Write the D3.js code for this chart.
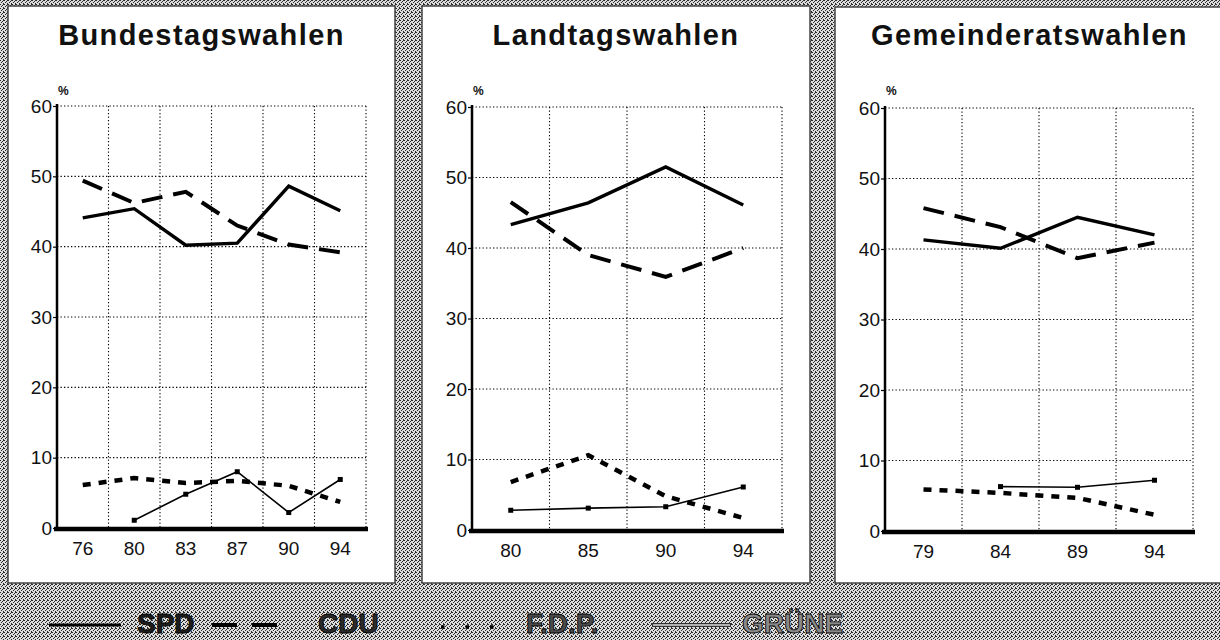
<!DOCTYPE html>
<html>
<head>
<meta charset="utf-8">
<script src="https://cdn.jsdelivr.net/npm/d3@7"></script>
<style>
  body { margin: 0; background: #a8a8a8; }
  svg { display: block; }
</style>
</head>
<body>
<div id="chart"></div>
<script>
var width = 1220;
var height = 640;

// Bundestagswahlen
var bundYears = ['76', '80', '83', '87', '90', '94'];
var bundSPD = [44.1, 45.4, 40.2, 40.5, 48.6, 45.1];
var bundCDU = [49.4, 46.2, 47.8, 43.0, 40.3, 39.2];
var bundFDP = [6.1, 7.1, 6.4, 6.7, 6.0, 3.7];
var bundGRUENE = [null, 1.1, 4.8, 8.0, 2.2, 6.9];

// Landtagswahlen
var landYears = ['80', '85', '90', '94'];
var landSPD = [43.3, 46.4, 51.5, 46.1];
var landCDU = [46.5, 39.0, 35.9, 40.0];
var landFDP = [6.8, 10.6, 4.8, 1.7];
var landGRUENE = [2.8, 3.1, 3.3, 6.1];

// Gemeinderatswahlen
var gemYears = ['79', '84', '89', '94'];
var gemSPD = [41.3, 40.1, 44.5, 42.0];
var gemCDU = [45.8, 43.1, 38.7, 40.9];
var gemFDP = [5.9, 5.4, 4.7, 2.3];
var gemGRUENE = [null, 6.3, 6.2, 7.2];

var yTicks = [0, 10, 20, 30, 40, 50, 60];
var parties = ['SPD', 'CDU', 'F.D.P.', 'GRÜNE'];

var svg = d3.select('#chart')
            .append('svg')
            .attr('width', width)
            .attr('height', height);

// halftone-ish background
var defs = svg.append('defs');
var pat = defs.append('pattern')
              .attr('id', 'halftone')
              .attr('width', 4)
              .attr('height', 4)
              .attr('patternUnits', 'userSpaceOnUse');
pat.append('rect').attr('width', 4).attr('height', 4).attr('fill', '#dcdcdc');
[[0, 0], [2, 1], [1, 2], [3, 3], [3, 0]].forEach(function(p) {
  pat.append('rect').attr('x', p[0]).attr('y', p[1]).attr('width', 1).attr('height', 1).attr('fill', '#2a2a2a');
});
svg.append('rect').attr('width', width).attr('height', height).attr('fill', 'url(#halftone)');

var panels = [
  {title: 'Bundestagswahlen', years: bundYears, spd: bundSPD, cdu: bundCDU, fdp: bundFDP, gruene: bundGRUENE,
   box: [8, 6, 395, 583], plot: [57, 366], yr: [528, 106]},
  {title: 'Landtagswahlen', years: landYears, spd: landSPD, cdu: landCDU, fdp: landFDP, gruene: landGRUENE,
   box: [422, 6, 810, 583], plot: [472, 782], yr: [530, 107]},
  {title: 'Gemeinderatswahlen', years: gemYears, spd: gemSPD, cdu: gemCDU, fdp: gemFDP, gruene: gemGRUENE,
   box: [835, 7, 1224, 583], plot: [885, 1193], yr: [531, 108]}
];

var font = "'Liberation Sans', Arial, Helvetica, sans-serif";

panels.forEach(function(p) {
  var g = svg.append('g');

  g.append('rect')
   .attr('x', p.box[0]).attr('y', p.box[1])
   .attr('width', p.box[2] - p.box[0]).attr('height', p.box[3] - p.box[1])
   .attr('fill', '#fff')
   .attr('stroke', '#444')
   .attr('stroke-width', 1.5);

  g.append('text')
   .attr('x', (p.box[0] + p.box[2]) / 2)
   .attr('y', 45)
   .attr('text-anchor', 'middle')
   .attr('font-family', font)
   .attr('font-weight', 'bold')
   .attr('font-size', 29)
   .attr('letter-spacing', 1.4)
   .attr('fill', '#111')
   .text(p.title);

  var x = d3.scaleBand().domain(p.years).range(p.plot).padding(0);
  var y = d3.scaleLinear().domain([0, 60]).range(p.yr);
  var cx = function(d, i) { return x(p.years[i]) + x.bandwidth() / 2; };

  // grid
  var vLines = p.years.slice(1).map(function(d) { return x(d); }).concat([p.plot[1]]);
  g.selectAll('.vgrid').data(vLines).enter().append('line')
   .attr('x1', function(d) { return d; }).attr('x2', function(d) { return d; })
   .attr('y1', y(60)).attr('y2', y(0))
   .attr('stroke', '#000').attr('stroke-width', 1.1)
   .attr('stroke-dasharray', '1.3,2.2');
  g.selectAll('.hgrid').data(yTicks.slice(1)).enter().append('line')
   .attr('x1', p.plot[0]).attr('x2', p.plot[1])
   .attr('y1', function(d) { return y(d); }).attr('y2', function(d) { return y(d); })
   .attr('stroke', '#000').attr('stroke-width', 1.1)
   .attr('stroke-dasharray', '1.3,2.2');

  // axes
  var yAxis = g.append('g')
   .attr('transform', 'translate(' + p.plot[0] + ',0)')
   .call(d3.axisLeft(y).tickValues(yTicks).tickSize(4).tickPadding(1));
  yAxis.select('.domain').remove();
  yAxis.selectAll('text').attr('font-family', font).attr('font-size', 19).attr('fill', '#111');
  yAxis.selectAll('line').attr('stroke', '#000').attr('stroke-width', 1.2);

  var xAxis = g.append('g')
   .attr('transform', 'translate(0,' + y(0) + ')')
   .call(d3.axisBottom(x).tickSize(0).tickPadding(14));
  xAxis.select('.domain').remove();
  xAxis.selectAll('text').attr('font-family', font).attr('font-size', 19).attr('fill', '#111');

  g.append('line')
   .attr('x1', p.plot[0]).attr('x2', p.plot[0])
   .attr('y1', y(60) - 2).attr('y2', y(0))
   .attr('stroke', '#000').attr('stroke-width', 2.5);
  g.append('line')
   .attr('x1', p.plot[0] - 3).attr('x2', p.plot[1] + 2)
   .attr('y1', y(0) + 1).attr('y2', y(0) + 1)
   .attr('stroke', '#000').attr('stroke-width', 4.5);

  g.append('text')
   .attr('x', p.plot[0] + 1).attr('y', 95)
   .attr('font-family', font).attr('font-weight', 'bold').attr('font-size', 12)
   .attr('fill', '#111')
   .text('%');

  var line = d3.line()
   .defined(function(d) { return d != null; })
   .x(cx)
   .y(function(d) { return y(d); });

  g.append('path').datum(p.fdp).attr('d', line)
   .attr('fill', 'none').attr('stroke', '#000').attr('stroke-width', 4.5)
   .attr('stroke-dasharray', '8,8');
  g.append('path').datum(p.gruene).attr('d', line)
   .attr('fill', 'none').attr('stroke', '#000').attr('stroke-width', 1.6);

  // small square markers on GRÜNE
  var marks = p.gruene.map(function(v, i) { return {v: v, i: i}; })
                      .filter(function(d) { return d.v != null; });
  g.selectAll('.mk').data(marks).enter()
   .append('rect')
   .attr('x', function(d) { return cx(d.v, d.i) - 2.5; })
   .attr('y', function(d) { return y(d.v) - 2.5; })
   .attr('width', 5).attr('height', 5).attr('fill', '#000');

  g.append('path').datum(p.cdu).attr('d', line)
   .attr('fill', 'none').attr('stroke', '#000').attr('stroke-width', 4)
   .attr('stroke-dasharray', '21,11');
  g.append('path').datum(p.spd).attr('d', line)
   .attr('fill', 'none').attr('stroke', '#000').attr('stroke-width', 3.4);
});

// legend
var lg = svg.append('g');
var ly = 625;
lg.append('line').attr('x1', 49).attr('x2', 121).attr('y1', ly).attr('y2', ly)
  .attr('stroke', '#000').attr('stroke-width', 3);
lg.append('line').attr('x1', 212).attr('x2', 282).attr('y1', ly).attr('y2', ly)
  .attr('stroke', '#000').attr('stroke-width', 4).attr('stroke-dasharray', '25,15');
lg.append('line').attr('x1', 441).attr('x2', 495).attr('y1', ly + 2).attr('y2', ly + 2)
  .attr('stroke', '#000').attr('stroke-width', 3.5).attr('stroke-dasharray', '3.5,21');
lg.append('line').attr('x1', 652).attr('x2', 731).attr('y1', ly).attr('y2', ly)
  .attr('stroke', '#333').attr('stroke-width', 4);
lg.append('line').attr('x1', 653).attr('x2', 730).attr('y1', ly).attr('y2', ly)
  .attr('stroke', '#ddd').attr('stroke-width', 1.6);

var legendX = [137, 318, 526, 742];
var legendFill = ['#1c1c1c', '#2a2a2a', '#4a4a4a', '#8a8a8a'];
lg.selectAll('.lt').data(parties).enter().append('text')
  .attr('x', function(d, i) { return legendX[i]; })
  .attr('y', 633)
  .attr('font-family', font).attr('font-weight', 'bold').attr('font-size', 28)
  .attr('fill', function(d, i) { return legendFill[i]; })
  .attr('stroke', '#000').attr('stroke-width', 0.8)
  .text(function(d) { return d; });
</script>
</body>
</html>
